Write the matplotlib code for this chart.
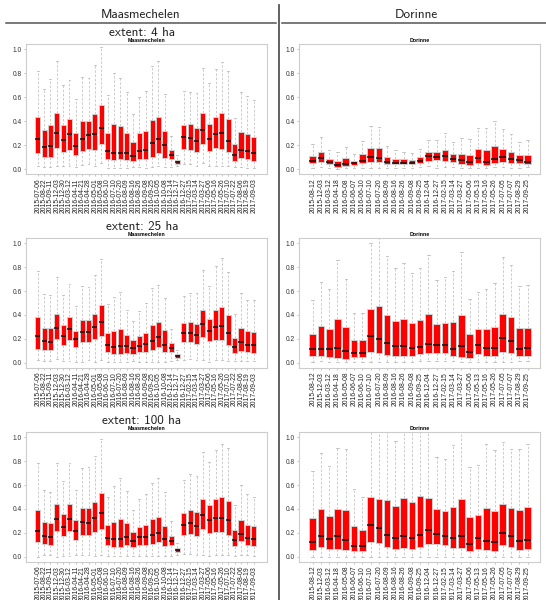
import matplotlib
matplotlib.use("Agg")
import matplotlib.pyplot as plt
from matplotlib.lines import Line2D

# ---------------------------------------------------------------- data
maas_dates = [
    "2015-07-06", "2015-08-22", "2015-09-11", "2015-12-03", "2015-12-30",
    "2016-03-12", "2016-04-11", "2016-04-21", "2016-04-28", "2016-05-01",
    "2016-05-08", "2016-06-10", "2016-07-10", "2016-07-20", "2016-08-09",
    "2016-08-16", "2016-08-26", "2016-09-08", "2016-09-25", "2016-10-05",
    "2016-10-08", "2016-12-14", "2016-12-17", "2016-12-27", "2017-02-15",
    "2017-03-14", "2017-03-27", "2017-05-06", "2017-05-16", "2017-05-26",
    "2017-07-10", "2017-07-22", "2017-08-06", "2017-08-19", "2017-09-03",
]
dor_dates = [
    "2015-08-12", "2015-12-03", "2016-03-12", "2016-04-18", "2016-05-08",
    "2016-06-07", "2016-06-10", "2016-07-10", "2016-07-20", "2016-08-09",
    "2016-08-16", "2016-08-26", "2016-09-08", "2016-09-25", "2016-12-04",
    "2016-12-27", "2017-02-15", "2017-03-14", "2017-03-27", "2017-05-06",
    "2017-05-13", "2017-05-16", "2017-05-26", "2017-07-05", "2017-07-07",
    "2017-08-29", "2017-09-25",
]
extents = ["extent: 4 ha", "extent: 25 ha", "extent: 100 ha"]

# Maasmechelen, 4 ha
maas4_lo = [0.03, 0.02, 0.017, 0.025, 0.025, 0.025, 0.022, 0.036, 0.044, 0.025,
            0.05, 0.011, 0.011, 0.011, 0.011, 0.017, 0.02, 0.014, 0.02, 0.03,
            0.02, 0.022, 0.025, 0.044, 0.044, 0.033, 0.058, 0.03, 0.03, 0.03,
            0.03, 0.017, 0.02, 0.014, 0.014]
maas4_q1 = [0.141, 0.10, 0.10, 0.177, 0.147, 0.163, 0.119, 0.152, 0.172, 0.158,
            0.208, 0.089, 0.075, 0.086, 0.075, 0.069, 0.089, 0.086, 0.10, 0.133,
            0.094, 0.083, 0.044, 0.172, 0.166, 0.144, 0.21, 0.155, 0.175, 0.172,
            0.144, 0.072, 0.094, 0.083, 0.069]
maas4_med = [0.252, 0.186, 0.197, 0.302, 0.241, 0.294, 0.194, 0.252, 0.285, 0.296,
             0.343, 0.155, 0.136, 0.141, 0.138, 0.114, 0.152, 0.163, 0.216, 0.252,
             0.205, 0.119, 0.061, 0.269, 0.26, 0.238, 0.324, 0.255, 0.294, 0.307,
             0.238, 0.122, 0.163, 0.155, 0.136]
maas4_q3 = [0.435, 0.332, 0.366, 0.47, 0.371, 0.42, 0.305, 0.40, 0.404, 0.46,
            0.535, 0.307, 0.377, 0.363, 0.307, 0.23, 0.302, 0.316, 0.41, 0.438,
            0.316, 0.163, 0.078, 0.371, 0.377, 0.346, 0.468, 0.38, 0.44, 0.471,
            0.418, 0.213, 0.313, 0.296, 0.274]
maas4_hi = [0.82, 0.667, 0.75, 0.90, 0.70, 0.742, 0.587, 0.767, 0.756, 0.867,
            1.017, 0.615, 0.80, 0.762, 0.643, 0.46, 0.604, 0.654, 0.859, 0.903,
            0.626, 0.28, 0.119, 0.648, 0.645, 0.634, 0.842, 0.717, 0.834, 0.895,
            0.82, 0.427, 0.643, 0.612, 0.576]

# Maasmechelen, 25 ha
maas25_lo = [0.022, 0.014, 0.014, 0.036, 0.014, 0.014, 0.011, 0.011, 0.028, 0.011,
             0.028, 0.008, 0.008, 0.008, 0.008, 0.014, 0.008, 0.008, 0.011, 0.011,
             0.008, 0.017, 0.025, 0.022, 0.031, 0.025, 0.025, 0.006, 0.028, 0.025,
             0.014, 0.014, 0.014, 0.014, 0.014]
maas25_q1 = [0.12, 0.111, 0.106, 0.20, 0.15, 0.195, 0.131, 0.175, 0.178, 0.198,
             0.228, 0.092, 0.075, 0.078, 0.086, 0.078, 0.089, 0.089, 0.111, 0.131,
             0.089, 0.092, 0.042, 0.178, 0.178, 0.159, 0.217, 0.181, 0.195, 0.189,
             0.153, 0.081, 0.103, 0.089, 0.086]
maas25_med = [0.223, 0.181, 0.173, 0.29, 0.226, 0.281, 0.198, 0.259, 0.259, 0.298,
              0.345, 0.148, 0.134, 0.142, 0.139, 0.123, 0.142, 0.156, 0.181, 0.217,
              0.15, 0.123, 0.056, 0.248, 0.248, 0.231, 0.323, 0.265, 0.298, 0.309,
              0.248, 0.131, 0.175, 0.15, 0.148]
maas25_q3 = [0.379, 0.295, 0.29, 0.407, 0.318, 0.382, 0.27, 0.362, 0.357, 0.412,
             0.482, 0.251, 0.265, 0.281, 0.231, 0.189, 0.228, 0.253, 0.318, 0.343,
             0.273, 0.17, 0.072, 0.331, 0.34, 0.326, 0.44, 0.365, 0.44, 0.468,
             0.398, 0.209, 0.295, 0.267, 0.262]
maas25_hi = [0.763, 0.571, 0.565, 0.716, 0.563, 0.655, 0.474, 0.641, 0.63, 0.733,
             0.866, 0.49, 0.552, 0.588, 0.443, 0.351, 0.432, 0.499, 0.624, 0.649,
             0.543, 0.281, 0.109, 0.56, 0.582, 0.582, 0.777, 0.643, 0.808, 0.875,
             0.758, 0.407, 0.585, 0.524, 0.524]

# Maasmechelen, 100 ha
maas100_lo = [0.0, 0.017, 0.017, 0.0, 0.006, 0.006, 0.017, 0.017, 0.017, 0.008,
              0.017, 0.008, 0.008, 0.008, 0.008, 0.008, 0.008, 0.008, 0.011, 0.011,
              0.008, 0.011, 0.017, 0.025, 0.025, 0.019, 0.014, 0.006, 0.014, 0.014,
              0.014, 0.008, 0.014, 0.014, 0.008]
maas100_q1 = [0.128, 0.109, 0.097, 0.214, 0.173, 0.214, 0.142, 0.187, 0.187, 0.209,
              0.234, 0.097, 0.086, 0.086, 0.097, 0.084, 0.097, 0.097, 0.109, 0.125,
              0.089, 0.10, 0.045, 0.181, 0.192, 0.175, 0.237, 0.203, 0.212, 0.209,
              0.187, 0.092, 0.136, 0.103, 0.092]
maas100_med = [0.217, 0.175, 0.164, 0.315, 0.253, 0.315, 0.217, 0.292, 0.284, 0.323,
               0.368, 0.159, 0.148, 0.153, 0.162, 0.134, 0.162, 0.162, 0.181, 0.203,
               0.153, 0.136, 0.061, 0.265, 0.279, 0.262, 0.348, 0.304, 0.326, 0.323,
               0.304, 0.145, 0.189, 0.159, 0.15]
maas100_q3 = [0.393, 0.29, 0.279, 0.443, 0.359, 0.443, 0.309, 0.409, 0.412, 0.46,
              0.535, 0.267, 0.29, 0.315, 0.281, 0.209, 0.253, 0.267, 0.315, 0.337,
              0.262, 0.175, 0.075, 0.365, 0.393, 0.373, 0.487, 0.437, 0.482, 0.499,
              0.468, 0.226, 0.304, 0.27, 0.256]
maas100_hi = [0.786, 0.557, 0.54, 0.786, 0.635, 0.786, 0.56, 0.741, 0.752, 0.841,
              0.983, 0.501, 0.593, 0.655, 0.549, 0.393, 0.485, 0.526, 0.618, 0.655,
              0.538, 0.298, 0.117, 0.643, 0.694, 0.677, 0.877, 0.794, 0.894, 0.944,
              0.905, 0.435, 0.599, 0.526, 0.501]

# Dorinne, 4 ha
dor4_lo = [0.011, 0.02, 0.011, 0.003, 0.011, 0.011, 0.011, 0.014, 0.014, 0.011,
           0.014, 0.014, 0.014, 0.02, 0.025, 0.011, 0.02, 0.022, 0.014, 0.011,
           0.011, 0.014, 0.017, 0.017, 0.011, 0.014, 0.017]
dor4_q1 = [0.05, 0.066, 0.042, 0.022, 0.03, 0.036, 0.05, 0.061, 0.061, 0.044,
           0.042, 0.042, 0.042, 0.05, 0.072, 0.08, 0.072, 0.061, 0.044, 0.036,
           0.053, 0.039, 0.053, 0.061, 0.053, 0.053, 0.044]
dor4_med = [0.072, 0.097, 0.061, 0.039, 0.047, 0.055, 0.072, 0.102, 0.094, 0.064,
            0.055, 0.055, 0.055, 0.072, 0.111, 0.105, 0.111, 0.089, 0.078, 0.061,
            0.094, 0.061, 0.086, 0.102, 0.089, 0.08, 0.064]
dor4_q3 = [0.114, 0.147, 0.089, 0.072, 0.097, 0.072, 0.125, 0.18, 0.18, 0.102,
           0.089, 0.086, 0.08, 0.10, 0.144, 0.144, 0.163, 0.13, 0.13, 0.122,
           0.169, 0.161, 0.191, 0.172, 0.147, 0.122, 0.122]
dor4_hi = [0.213, 0.269, 0.161, 0.147, 0.186, 0.13, 0.238, 0.363, 0.357, 0.194,
           0.161, 0.147, 0.141, 0.169, 0.244, 0.241, 0.299, 0.227, 0.26, 0.255,
           0.343, 0.343, 0.402, 0.338, 0.294, 0.227, 0.244]

# Dorinne, 25 ha
dor25_lo = [0.011, 0.014, 0.008, 0.006, 0.006, 0.008, 0.008, 0.011, 0.011, 0.011,
            0.011, 0.008, 0.011, 0.014, 0.014, 0.014, 0.014, 0.014, 0.008, 0.008,
            0.006, 0.008, 0.011, 0.011, 0.011, 0.014, 0.014]
dor25_q1 = [0.056, 0.061, 0.053, 0.039, 0.036, 0.047, 0.053, 0.089, 0.081, 0.07,
            0.056, 0.061, 0.061, 0.072, 0.084, 0.084, 0.084, 0.058, 0.05, 0.042,
            0.078, 0.058, 0.056, 0.095, 0.086, 0.058, 0.056]
dor25_med = [0.114, 0.12, 0.114, 0.123, 0.10, 0.084, 0.084, 0.223, 0.198, 0.167,
             0.139, 0.139, 0.123, 0.136, 0.159, 0.148, 0.148, 0.12, 0.142, 0.089,
             0.15, 0.123, 0.123, 0.206, 0.181, 0.114, 0.123]
dor25_q3 = [0.242, 0.309, 0.279, 0.365, 0.301, 0.195, 0.195, 0.448, 0.471, 0.398,
            0.348, 0.368, 0.331, 0.354, 0.407, 0.326, 0.334, 0.343, 0.401, 0.242,
            0.284, 0.284, 0.301, 0.412, 0.379, 0.292, 0.295]
dor25_hi = [0.521, 0.674, 0.616, 0.858, 0.699, 0.415, 0.415, 1.0, 1.08, 0.889,
            0.791, 0.838, 0.747, 0.791, 0.897, 0.691, 0.716, 0.766, 0.922, 0.532,
            0.591, 0.618, 0.668, 0.886, 0.819, 0.643, 0.652]

# Dorinne, 100 ha
dor100_lo = [0.0] * 27
dor100_q1 = [0.061, 0.086, 0.07, 0.07, 0.056, 0.05, 0.05, 0.128, 0.12, 0.081,
             0.067, 0.072, 0.07, 0.084, 0.106, 0.106, 0.097, 0.075, 0.075, 0.053,
             0.067, 0.061, 0.053, 0.097, 0.084, 0.058, 0.07]
dor100_med = [0.125, 0.175, 0.15, 0.175, 0.139, 0.092, 0.092, 0.267, 0.24, 0.187,
              0.159, 0.175, 0.159, 0.184, 0.226, 0.192, 0.175, 0.159, 0.175, 0.109,
              0.159, 0.134, 0.125, 0.198, 0.175, 0.134, 0.142]
dor100_q3 = [0.323, 0.398, 0.345, 0.404, 0.393, 0.256, 0.228, 0.504, 0.487, 0.471,
             0.426, 0.49, 0.462, 0.507, 0.493, 0.396, 0.384, 0.418, 0.485, 0.331,
             0.351, 0.409, 0.387, 0.44, 0.409, 0.39, 0.42]
dor100_hi = [0.716, 0.866, 0.76, 0.911, 0.903, 0.565, 0.501, 1.08, 1.08, 1.08,
             0.964, 1.08, 1.08, 1.08, 1.08, 0.836, 0.819, 0.933, 1.08, 0.752,
             0.769, 0.939, 0.894, 0.958, 0.903, 0.903, 0.944]

panels = [
    [(maas_dates, maas4_lo, maas4_q1, maas4_med, maas4_q3, maas4_hi),
     (dor_dates, dor4_lo, dor4_q1, dor4_med, dor4_q3, dor4_hi)],
    [(maas_dates, maas25_lo, maas25_q1, maas25_med, maas25_q3, maas25_hi),
     (dor_dates, dor25_lo, dor25_q1, dor25_med, dor25_q3, dor25_hi)],
    [(maas_dates, maas100_lo, maas100_q1, maas100_med, maas100_q3, maas100_hi),
     (dor_dates, dor100_lo, dor100_q1, dor100_med, dor100_q3, dor100_hi)],
]
sites = ["Maasmechelen", "Dorinne"]

# ---------------------------------------------------------------- layout
W, H = 546, 600
fig = plt.figure(figsize=(W / 100, H / 100), dpi=100)
fig.patch.set_facecolor("white")

col_x = [(25.7, 266.7), (299.3, 540.3)]
row_y = [(44.3, 174.3), (238.3, 367.7), (432.3, 561.7)]
pad_units = [(1.89, 2.05), (1.62, 1.54)]

head_font = "cmss10"
tick_font = "Liberation Sans"
frame_col = "#cccccc"

for r, row in enumerate(panels):
    for c, (dates, lo, q1, med, q3, hi) in enumerate(row):
        x0, x1 = col_x[c]
        y0, y1 = row_y[r]
        ax = fig.add_axes([x0 / W, 1 - y1 / H, (x1 - x0) / W, (y1 - y0) / H])
        stats = [
            dict(whislo=a, q1=b, med=m, q3=d, whishi=e, fliers=[], label=lab)
            for lab, a, b, m, d, e in zip(dates, lo, q1, med, q3, hi)
        ]
        n = len(stats)
        ax.bxp(
            stats,
            positions=range(1, n + 1),
            widths=0.8,
            capwidths=0.3,
            patch_artist=True,
            showfliers=False,
            boxprops=dict(facecolor="#ff0000", edgecolor="#d0d0d0", linewidth=0.7),
            medianprops=dict(color="#111111", linewidth=1.1),
            whiskerprops=dict(color="#c4c4c4", linewidth=0.6, linestyle=(0, (3, 2))),
            capprops=dict(color="#bcbcbc", linewidth=0.6),
        )
        pl, pr = pad_units[c]
        ax.set_xlim(1 - pl, n + pr)
        ax.set_ylim(-0.04, 1.04)
        ax.set_yticks([0.0, 0.2, 0.4, 0.6, 0.8, 1.0])
        ax.set_yticklabels(["0.0", "0.2", "0.4", "0.6", "0.8", "1.0"],
                           fontfamily=tick_font, fontsize=4.8, color="#333333")
        ax.set_xticks(range(1, n + 1))
        ax.set_xticklabels(dates, rotation=90, fontfamily=tick_font,
                           fontsize=4.9, color="#222222")
        ax.tick_params(axis="both", length=1.5, width=0.5, color="#aaaaaa", pad=1.5)
        for sp in ax.spines.values():
            sp.set_color(frame_col)
            sp.set_linewidth(0.8)
        ax.set_title(sites[c], fontfamily=tick_font, fontsize=3.8,
                     fontweight="bold", pad=1.5)

# Column headers, rule lines and the column divider
fig.text(141 / W, 1 - 14.5 / H, "Maasmechelen", family=head_font, fontsize=9.5,
         ha="center", va="center", color="#222222")
fig.text(416 / W, 1 - 14.5 / H, "Dorinne", family=head_font, fontsize=9.5,
         ha="center", va="center", color="#222222")
fig.add_artist(Line2D([6 / W, 276 / W], [1 - 23.3 / H] * 2, color="#555555", lw=1.1))
fig.add_artist(Line2D([282 / W, 1.0], [1 - 23.3 / H] * 2, color="#555555", lw=1.1))
fig.add_artist(Line2D([279 / W] * 2, [1 - 5 / H, 0.0], color="#555555", lw=1.3))

# Extent labels above each row
for r, label in enumerate(extents):
    yc = row_y[r][0] - 11.5
    fig.text(142 / W, 1 - yc / H, label, family=head_font, fontsize=9.5,
             ha="center", va="center", color="#222222")

fig.savefig("out.png", dpi=100)
